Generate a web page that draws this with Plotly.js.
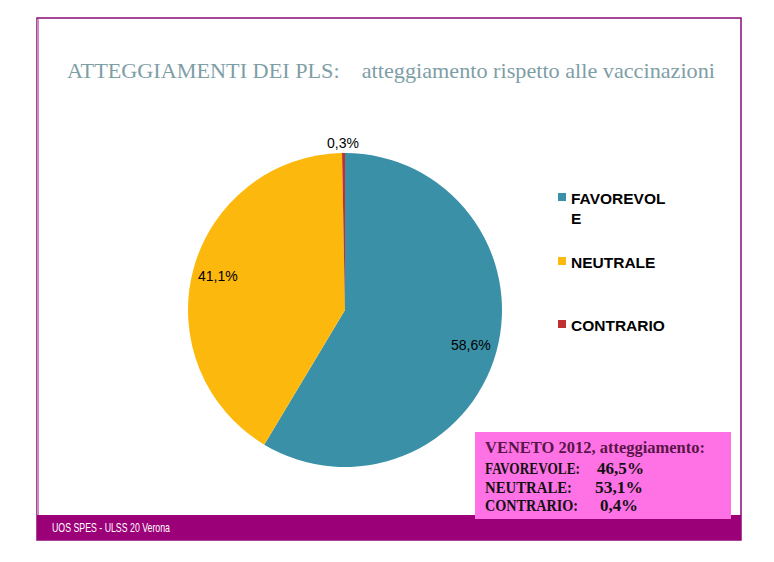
<!DOCTYPE html>
<html>
<head>
<meta charset="utf-8">
<script src="https://cdn.plot.ly/plotly-3.0.1.min.js"></script>
<style>html,body{margin:0;padding:0;background:#fff;}#chart{width:774px;height:562px;}</style>
</head>
<body>
<div id="chart"></div>
<script>
const categories = ['FAVOREVOLE', 'NEUTRALE', 'CONTRARIO'];
const values = [58.6, 41.1, 0.3];
const colors = ['#3A91A7', '#FDB80E', '#C0302E'];
const venetoTitle = 'VENETO 2012, atteggiamento:';
const venetoLabels = ['FAVOREVOLE:', 'NEUTRALE:', 'CONTRARIO:'];
const venetoValues = [46.5, 53.1, 0.4];
const titleMain = 'ATTEGGIAMENTI DEI PLS:';
const titleSub = 'atteggiamento rispetto alle vaccinazioni';
const footerText = 'UOS SPES - ULSS 20 Verona';

const W = 774, H = 562;
const px = x => x / W;
const py = y => 1 - y / H;
const fmt = v => v.toFixed(1).replace('.', ',') + '%';

// pie geometry (pixels)
const cx = 345, cy = 310, R = 157;

const trace = {
  type: 'pie',
  labels: categories,
  values: values,
  marker: {colors: colors, line: {width: 0}},
  sort: false,
  direction: 'clockwise',
  rotation: 0,
  textinfo: 'none',
  hoverinfo: 'none',
  showlegend: false,
  domain: {x: [px(cx - R), px(cx + R)], y: [py(cy + R), py(cy - R)]}
};

const shapes = [
  {type: 'rect', xref: 'paper', yref: 'paper', x0: px(37), x1: px(741), y0: py(540), y1: py(18), line: {color: '#8C0A78', width: 1.5}, fillcolor: 'rgba(0,0,0,0)'},
  {type: 'line', xref: 'paper', yref: 'paper', x0: px(38), x1: px(38), y0: py(515), y1: py(19), line: {color: '#C98BBE', width: 2}},
  {type: 'rect', xref: 'paper', yref: 'paper', x0: px(37), x1: px(741), y0: py(540), y1: py(515), line: {width: 0}, fillcolor: '#9C0079'},
  {type: 'rect', xref: 'paper', yref: 'paper', x0: px(475), x1: px(731), y0: py(519), y1: py(432), line: {width: 0}, fillcolor: '#FF72E6'}
];

const annotations = [];
const fits = []; // [exact text, target width]
// title
const titleText = titleMain + '\u00a0\u00a0\u00a0\u00a0' + titleSub;
annotations.push({xref: 'paper', yref: 'paper', x: px(65), y: py(71), xanchor: 'left', yanchor: 'middle', showarrow: false,
  text: titleText,
  font: {family: 'Liberation Serif, Times New Roman, serif', size: 21, color: '#7E9EA6'}});
fits.push([titleText, 648]);

// pie value labels, placed at the slice mid-angle
const total = values.reduce((a, b) => a + b, 0);
let cum = 0;
values.forEach((v, i) => {
  const mid = (cum + v / 2) / total * 2 * Math.PI;
  cum += v;
  const rr = (v / total < 0.05) ? R * 1.065 : R * 0.835;
  annotations.push({xref: 'paper', yref: 'paper', x: px(cx + rr * Math.sin(mid)), y: py(cy - rr * Math.cos(mid)),
    xanchor: 'center', yanchor: 'middle', showarrow: false, text: fmt(v),
    font: {family: 'Liberation Sans, Arial, sans-serif', size: 14, color: '#000'}});
});

// legend
const legendY = [197, 261, 324];
const wrap = s => s.length > 9 ? s.slice(0, 9) + '<br>' + s.slice(9) : s;
categories.forEach((c, i) => {
  shapes.push({type: 'rect', xref: 'paper', yref: 'paper', x0: px(558), x1: px(566), y0: py(legendY[i] + 4), y1: py(legendY[i] - 4), line: {width: 0}, fillcolor: colors[i]});
  annotations.push({xref: 'paper', yref: 'paper', x: px(569), y: py(legendY[i] - 9), xanchor: 'left', yanchor: 'top', align: 'left', showarrow: false,
    text: '<b>' + wrap(c) + '</b>', font: {family: 'Liberation Sans, Arial, sans-serif', size: 15.5, color: '#000'}});
});
// veneto box
annotations.push({xref: 'paper', yref: 'paper', x: px(483), y: py(448), xanchor: 'left', yanchor: 'middle', showarrow: false,
  text: '<b>' + venetoTitle + '</b>', font: {family: 'Liberation Serif, serif', size: 16, color: '#5A1548'}});
fits.push([venetoTitle, 220]);
const vY = [468, 487, 505];
const vX = [595, 593, 598];
const labW = [95, 87, 93];
const valW = [47, 48, 38];
venetoLabels.forEach((l, i) => {
  annotations.push({xref: 'paper', yref: 'paper', x: px(483), y: py(vY[i]), xanchor: 'left', yanchor: 'middle', showarrow: false,
    text: '<b>' + l + '</b>', font: {family: 'Liberation Serif, serif', size: 16, color: '#111'}});
  annotations.push({xref: 'paper', yref: 'paper', x: px(vX[i]), y: py(vY[i]), xanchor: 'left', yanchor: 'middle', showarrow: false,
    text: '<b>' + fmt(venetoValues[i]) + '</b>', font: {family: 'Liberation Serif, serif', size: 16, color: '#111'}});
  fits.push([l, labW[i]]);
  fits.push([fmt(venetoValues[i]), valW[i]]);
});
// footer
annotations.push({xref: 'paper', yref: 'paper', x: px(50), y: py(527), xanchor: 'left', yanchor: 'middle', showarrow: false,
  text: footerText,
  font: {family: 'Liberation Sans, Arial, sans-serif', size: 13, color: '#fff'}});
fits.push([footerText, 118]);

const layout = {
  width: W, height: H,
  margin: {l: 0, r: 0, t: 0, b: 0},
  paper_bgcolor: '#fff',
  showlegend: false,
  shapes: shapes,
  annotations: annotations
};

Plotly.newPlot('chart', [trace], layout, {displayModeBar: false, staticPlot: true}).then(gd => {
  // condense texts to match the reference's narrower fonts, keeping the left edge fixed
  const texts = Array.from(gd.querySelectorAll('.annotation-text'));
  fits.forEach(([txt, len]) => {
    texts.forEach(t => {
      if (t.textContent === txt) {
        const bb = t.getBBox();
        t.setAttribute('text-anchor', 'start');
        t.style.textAnchor = 'start';
        t.setAttribute('x', bb.x);
        t.setAttribute('textLength', len);
        t.setAttribute('lengthAdjust', 'spacingAndGlyphs');
      }
    });
  });
});
</script>
</body>
</html>
